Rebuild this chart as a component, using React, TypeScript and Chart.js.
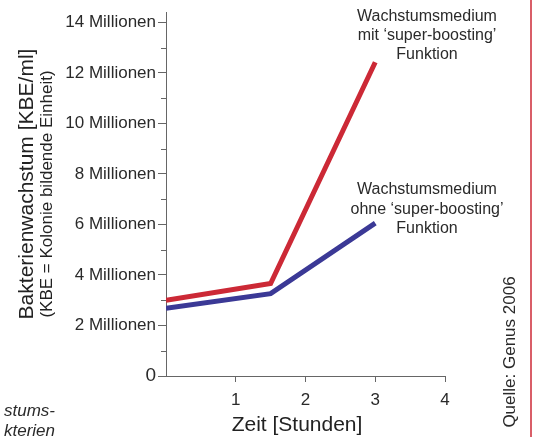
import React, { useEffect, useRef } from "react";
import { Chart, registerables } from "chart.js";

Chart.register(...registerables);

const hours = [0, 1.5, 3];
const withBoost = [3.0e6, 3.66e6, 12.42e6];
const withoutBoost = [2.68e6, 3.26e6, 6.05e6];
const yTickValues = [0, 2e6, 4e6, 6e6, 8e6, 10e6, 12e6, 14e6];
const yMinorTicks = [1e6, 3e6, 5e6, 7e6, 9e6, 11e6, 13e6];
const xTickLabels = ["", "1", "2", "3", "4"];
const annotationBoost = ["Wachstumsmedium", "mit ‘super-boosting’", "Funktion"];
const annotationNoBoost = ["Wachstumsmedium", "ohne ‘super-boosting’", "Funktion"];

const FONT = "'Liberation Sans', Arial, Helvetica, sans-serif";
const RED = "#cc2936";
const BLUE = "#3b3996";
const AXIS = "#666666";
const TEXT = "#2a2a2a";

const decorPlugin = {
  id: "decor",
  afterDraw(chart: any) {
    const ctx = chart.ctx as CanvasRenderingContext2D;
    const y = chart.scales.y;
    const area = chart.chartArea;
    ctx.save();
    // minor ticks on y axis
    ctx.strokeStyle = AXIS;
    ctx.lineWidth = 1;
    yMinorTicks.forEach((v) => {
      const py = Math.round(y.getPixelForValue(v)) + 0.5;
      ctx.beginPath();
      ctx.moveTo(area.left - 5, py);
      ctx.lineTo(area.left, py);
      ctx.stroke();
    });

    // y axis titles
    ctx.fillStyle = "#222";
    ctx.textAlign = "center";
    ctx.textBaseline = "alphabetic";
    ctx.save();
    ctx.translate(33, 184);
    ctx.rotate(-Math.PI / 2);
    ctx.font = `21px ${FONT}`;
    ctx.fillText("Bakterienwachstum [KBE/ml]", 0, 0);
    ctx.restore();
    ctx.save();
    ctx.translate(52, 194);
    ctx.rotate(-Math.PI / 2);
    ctx.font = `17px ${FONT}`;
    ctx.fillText("(KBE = Kolonie bildende Einheit)", 0, 0);
    ctx.restore();

    // x axis title
    ctx.font = `21px ${FONT}`;
    ctx.fillText("Zeit [Stunden]", 297, 431);

    // annotations
    ctx.fillStyle = TEXT;
    ctx.font = `16px ${FONT}`;
    const b1 = [21, 40, 59];
    annotationBoost.forEach((t, i) => ctx.fillText(t, 427, b1[i]));
    const b2 = [194, 213.5, 233];
    annotationNoBoost.forEach((t, i) => ctx.fillText(t, 427, b2[i]));

    // source
    ctx.save();
    ctx.translate(515, 352);
    ctx.rotate(-Math.PI / 2);
    ctx.font = `17px ${FONT}`;
    ctx.fillText("Quelle: Genus 2006", 0, 0);
    ctx.restore();

    // partial italic text at bottom left
    ctx.textAlign = "right";
    ctx.font = `italic 17px ${FONT}`;
    ctx.fillText("stums-", 55, 416);
    ctx.fillText("kterien", 55, 436);

    // red frame line at right
    ctx.strokeStyle = RED;
    ctx.lineWidth = 1.5;
    ctx.beginPath();
    ctx.moveTo(531, 0);
    ctx.lineTo(531, 437);
    ctx.stroke();
    ctx.restore();
  },
};

export default function App() {
  const ref = useRef<HTMLCanvasElement>(null);
  useEffect(() => {
    if (!ref.current) return;
    Chart.defaults.font.family = FONT;
    const chart = new Chart(ref.current, {
      type: "line",
      data: {
        datasets: [
          {
            data: hours.map((h, i) => ({ x: h, y: withBoost[i] })),
            borderColor: RED,
            borderWidth: 5,
            pointRadius: 0,
            tension: 0,
            fill: false,
          },
          {
            data: hours.map((h, i) => ({ x: h, y: withoutBoost[i] })),
            borderColor: BLUE,
            borderWidth: 5,
            pointRadius: 0,
            tension: 0,
            fill: false,
          },
        ],
      },
      options: {
        responsive: false,
        animation: false,
        layout: { padding: { left: 0, right: 88, top: 11, bottom: 0 } },
        plugins: { legend: { display: false }, tooltip: { enabled: false } },
        scales: {
          x: {
            type: "linear",
            min: 0,
            max: 4,
            ticks: {
              stepSize: 1,
              autoSkip: false,
              maxRotation: 0,
              padding: 8,
              color: TEXT,
              font: { size: 17, family: FONT },
              callback: (v: any) => xTickLabels[Number(v)] ?? "",
            },
            grid: {
              drawOnChartArea: false,
              drawTicks: true,
              tickLength: 6,
              color: (c: any) => (c.tick && c.tick.value === 0 ? "rgba(0,0,0,0)" : AXIS),
            },
            border: { display: true, color: AXIS, width: 1 },
            afterFit: (s: any) => {
              s.height = 61;
            },
          },
          y: {
            type: "linear",
            min: 0,
            max: 14.4e6,
            afterBuildTicks: (s: any) => {
              s.ticks = yTickValues.map((v) => ({ value: v }));
            },
            ticks: {
              padding: 2,
              color: TEXT,
              font: (c: any) => ({ size: c.tick && c.tick.value === 0 ? 19 : 17, family: FONT }),
              callback: (v: any) => (Number(v) === 0 ? "0" : `${Number(v) / 1e6} Millionen`),
            },
            grid: {
              drawOnChartArea: false,
              drawTicks: true,
              tickLength: 8,
              color: AXIS,
            },
            border: { display: true, color: AXIS, width: 1 },
            afterFit: (s: any) => {
              s.width = 166;
            },
          },
        },
      },
      plugins: [decorPlugin],
    });
    return () => chart.destroy();
  }, []);
  return (
    <div style={{ position: "fixed", left: 0, top: 0, width: 533, height: 437, background: "#fff" }}>
      <canvas ref={ref} width={533} height={437} style={{ width: 533, height: 437 }} />
    </div>
  );
}
